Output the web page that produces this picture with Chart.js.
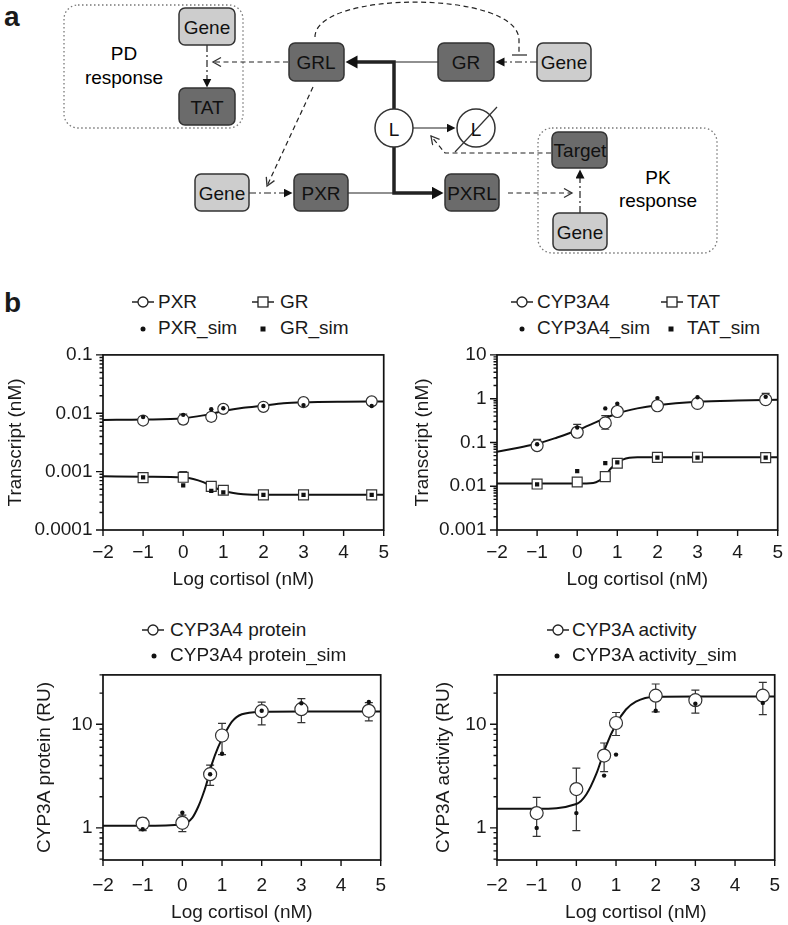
<!DOCTYPE html>
<html>
<head>
<meta charset="utf-8">
<script src="https://cdn.jsdelivr.net/npm/chart.js@4.4.1/dist/chart.umd.min.js"></script>
<style>
  body { margin: 0; background: #fff; width: 788px; height: 925px; position: relative; overflow: hidden;
         font-family: Arial, "Liberation Sans", sans-serif; color: #1a1a1a; }
  canvas, svg, .lg, .tag { position: absolute; }
  .lg { font-size: 19px; line-height: 22px; white-space: nowrap; }
  .tag { font-size: 28px; font-weight: bold; line-height: 30px; }
</style>
</head>
<body>

<div class="tag" style="left:4px;top:2px">a</div>
<div class="tag" style="left:4px;top:288px">b</div>

<!-- panel a: pathway diagram -->
<svg width="788" height="280" style="left:0;top:0" font-family="Arial, 'Liberation Sans', sans-serif" font-size="19">
  <defs>
    <marker id="fa" markerUnits="userSpaceOnUse" markerWidth="10" markerHeight="10" refX="0.5" refY="4.5" orient="auto"><path d="M0,0 L9,4.5 L0,9 z" fill="#111"/></marker>
    <marker id="fb" markerUnits="userSpaceOnUse" markerWidth="14" markerHeight="14" refX="0.5" refY="6.5" orient="auto"><path d="M0,0 L12,6.5 L0,13 z" fill="#111"/></marker>
    <marker id="oa" markerUnits="userSpaceOnUse" markerWidth="12" markerHeight="12" refX="9" refY="5" orient="auto"><path d="M1,0.5 L9,5 L1,9.5" fill="none" stroke="#333" stroke-width="1.3"/></marker>
  </defs>

  <!-- dotted response boxes -->
  <rect x="64" y="5" width="179" height="123" rx="14" fill="none" stroke="#777" stroke-width="1.3" stroke-dasharray="1.5 2.5"/>
  <rect x="538" y="128" width="179" height="125" rx="14" fill="none" stroke="#777" stroke-width="1.3" stroke-dasharray="1.5 2.5"/>
  <text x="124" y="53" text-anchor="middle" dominant-baseline="central">PD</text>
  <text x="124" y="77" text-anchor="middle" dominant-baseline="central">response</text>
  <text x="658" y="177" text-anchor="middle" dominant-baseline="central">PK</text>
  <text x="658" y="200" text-anchor="middle" dominant-baseline="central">response</text>

  <!-- connectors -->
  <g fill="none" stroke="#222">
    <path d="M207,45 L207,79" stroke-width="1.2" stroke-dasharray="7 3 2 3" marker-end="url(#fa)"/>
    <path d="M537,62 L504,62" stroke-width="1.2" stroke-dasharray="7 3 2 3" marker-end="url(#fa)"/>
    <path d="M249,193 L284,193" stroke-width="1.2" stroke-dasharray="7 3 2 3" marker-end="url(#fa)"/>
    <path d="M580,213 L580,178" stroke-width="1.2" stroke-dasharray="7 3 2 3" marker-end="url(#fa)"/>
    <path d="M438,62 L394,62" stroke-width="1.2"/>
    <path d="M348,193 L394,193" stroke-width="1.2"/>
    <path d="M394,109 L394,62 L357,62" stroke-width="3.5" marker-end="url(#fb)"/>
    <path d="M394,147 L394,193 L432,193" stroke-width="3.5" marker-end="url(#fb)"/>
    <path d="M413,128 L447,128" stroke-width="1.2" marker-end="url(#fa)"/>
    <path d="M288,62 L213,62" stroke-width="1.2" stroke-dasharray="5 3.5" marker-end="url(#oa)"/>
    <path d="M313,87 L267,186" stroke-width="1.2" stroke-dasharray="5 3.5" marker-end="url(#oa)"/>
    <path d="M508,193 L572,193" stroke-width="1.2" stroke-dasharray="5 3.5" marker-end="url(#oa)"/>
    <path d="M551,153 L445,153 L431,136" stroke-width="1.2" stroke-dasharray="5 3.5" marker-end="url(#oa)"/>
    <path d="M315,37 C315,-10 519,-10 519,40 L519,55" stroke-width="1.2" stroke-dasharray="5 3.5"/>
    <path d="M512,55 L527,55" stroke-width="1.2"/>
  </g>

  <!-- boxes -->
  <g stroke="#333" stroke-width="1.5">
    <rect x="179" y="8" width="56" height="37" rx="6" fill="#cdcdcd"/>
    <rect x="179" y="88" width="56" height="37" rx="6" fill="#6b6b6b"/>
    <rect x="289" y="43" width="55" height="38" rx="6" fill="#6b6b6b"/>
    <rect x="438" y="43" width="56" height="38" rx="6" fill="#6b6b6b"/>
    <rect x="537" y="43" width="54" height="38" rx="6" fill="#cdcdcd"/>
    <rect x="195" y="174" width="54" height="37" rx="6" fill="#cdcdcd"/>
    <rect x="294" y="174" width="54" height="37" rx="6" fill="#6b6b6b"/>
    <rect x="445" y="174" width="54" height="37" rx="6" fill="#6b6b6b"/>
    <rect x="552" y="132" width="55" height="36" rx="6" fill="#6b6b6b"/>
    <rect x="553" y="213" width="54" height="37" rx="6" fill="#cdcdcd"/>
    <circle cx="394" cy="128" r="19" fill="#fff"/>
    <circle cx="476" cy="128" r="19" fill="#fff"/>
    <path d="M455,152 L497,107" fill="none" stroke-width="1.2"/>
  </g>
  <g fill="#111" text-anchor="middle" dominant-baseline="central">
    <text x="207" y="27">Gene</text>
    <text x="207" y="107">TAT</text>
    <text x="316" y="62">GRL</text>
    <text x="466" y="62">GR</text>
    <text x="564" y="62">Gene</text>
    <text x="222" y="193">Gene</text>
    <text x="321" y="193">PXR</text>
    <text x="472" y="193">PXRL</text>
    <text x="580" y="150">Target</text>
    <text x="580" y="232">Gene</text>
    <text x="394" y="129">L</text>
    <text x="476" y="129">L</text>
  </g>
</svg>

<svg id="icons" width="788" height="925" style="left:0;top:0"></svg>

<canvas id="tl" width="394" height="260" style="left:0;top:340px"></canvas>
<canvas id="tr" width="394" height="260" style="left:394px;top:340px"></canvas>
<canvas id="bl" width="394" height="265" style="left:0;top:660px"></canvas>
<canvas id="br" width="394" height="265" style="left:394px;top:660px"></canvas>

<script>
// ---- data ----
const doseX = [-1, 0, 0.7, 1, 2, 3, 4.7];

const pxrObs = [0.0075, 0.0078, 0.0087, 0.0119, 0.0129, 0.0155, 0.016];
const pxrLo  = [0.0066, 0.0066, 0.0073, 0.0113, 0.0124, 0.0149, 0.0155];
const pxrHi  = [0.0087, 0.0097, 0.0102, 0.0125, 0.0134, 0.0161, 0.0165];
const pxrSim = [0.0086, 0.0094, 0.0117, 0.0122, 0.0133, 0.0138, 0.0133];
const pxrFitX = [-2, -1, 0, 0.5, 0.75, 1, 1.5, 2, 2.5, 3, 4, 5];
const pxrFitY = [0.0077, 0.0078, 0.0082, 0.0092, 0.0100, 0.0109, 0.0124, 0.0135, 0.0148, 0.0154, 0.0158, 0.0159];

const grObs = [0.00079, 0.0008, 0.00056, 0.00048, 0.0004, 0.0004, 0.0004];
const grLo  = [0.00074, 0.0007, 0.00052, 0.00045, 0.00038, 0.00038, 0.00038];
const grHi  = [0.00085, 0.001, 0.0006, 0.00051, 0.00042, 0.00042, 0.00042];
const grSim = [0.0008, 0.00058, 0.00047, 0.00044, 0.0004, 0.0004, 0.0004];
const grFitX = [-2, -1, 0, 0.25, 0.5, 0.75, 1, 1.25, 1.5, 2, 3, 5];
const grFitY = [0.00083, 0.00082, 0.00079, 0.00075, 0.00066, 0.00054, 0.00047, 0.00043, 0.00041, 0.0004, 0.0004, 0.0004];

const cypObs = [0.085, 0.171, 0.28, 0.51, 0.69, 0.78, 0.95];
const cypLo  = [0.07, 0.13, 0.2, 0.45, 0.62, 0.7, 0.75];
const cypHi  = [0.117, 0.26, 0.41, 0.62, 0.85, 0.92, 1.32];
const cypSim = [0.091, 0.22, 0.6, 0.77, 1.03, 1.08, 1.1];
const cypFitX = [-2, -1.5, -1, -0.5, 0, 0.5, 0.7, 1, 1.5, 2, 3, 4, 5];
const cypFitY = [0.061, 0.075, 0.093, 0.13, 0.19, 0.30, 0.36, 0.46, 0.60, 0.71, 0.85, 0.91, 0.94];

const tatObs = [0.0112, 0.0125, 0.0166, 0.0335, 0.0457, 0.046, 0.045];
const tatLo  = [0.0106, 0.0118, 0.0157, 0.0318, 0.0435, 0.0437, 0.0428];
const tatHi  = [0.0118, 0.0132, 0.0175, 0.0352, 0.048, 0.0483, 0.0472];
const tatSim = [0.011, 0.022, 0.0335, 0.035, 0.045, 0.045, 0.045];
const tatFitX = [-2, -1, 0, 0.4, 0.55, 0.7, 0.85, 1, 1.15, 1.3, 1.5, 2, 3, 5];
const tatFitY = [0.0115, 0.0115, 0.0115, 0.0119, 0.0135, 0.0174, 0.026, 0.0335, 0.041, 0.0445, 0.0458, 0.046, 0.046, 0.046];

const protObs = [1.1, 1.12, 3.3, 7.8, 13.4, 14, 13.5];
const protLo  = [0.94, 0.92, 2.57, 5.1, 9.9, 10.4, 10.8];
const protHi  = [1.25, 1.33, 4.04, 10.2, 16.4, 17.7, 16.2];
const protSim = [0.97, 1.4, 3.3, 5.2, 13.5, 16, 16.4];
const protFitX = [-2, -1, 0, 0.25, 0.4, 0.5, 0.6, 0.75, 0.9, 1, 1.25, 1.5, 2, 3, 5];
const protFitY = [1.05, 1.05, 1.08, 1.25, 1.6, 2.0, 2.6, 4.2, 6.0, 7.2, 10.6, 12.5, 13.2, 13.3, 13.3];

const actObs = [1.39, 2.37, 4.99, 10.3, 18.9, 17.1, 18.9];
const actLo  = [0.83, 0.94, 3.5, 7.8, 13.2, 12.8, 12.4];
const actHi  = [1.97, 3.78, 6.6, 13, 24.5, 21.4, 25.4];
const actSim = [1.0, 1.39, 3.2, 5.1, 13.5, 15.8, 16.1];
const actFitX = [-2, -1, 0, 0.25, 0.5, 0.75, 1, 1.25, 1.5, 2, 3, 5];
const actFitY = [1.53, 1.53, 1.7, 2.1, 3.3, 6.2, 10.0, 13.9, 16.6, 18.5, 18.6, 18.6];

// tick labels
const xTicks = [-2, -1, 0, 1, 2, 3, 4, 5];
const tlYTicks = [0.0001, 0.001, 0.01, 0.1];
const tlYLabels = ['0.0001', '0.001', '0.01', '0.1'];
const trYTicks = [0.001, 0.01, 0.1, 1, 10];
const trYLabels = ['0.001', '0.01', '0.1', '1', '10'];
const botYTicks = [1, 10];
const botYLabels = ['1', '10'];

const tlNames = ['PXR', 'GR', 'PXR_sim', 'GR_sim'];
const trNames = ['CYP3A4', 'TAT', 'CYP3A4_sim', 'TAT_sim'];
const blNames = ['CYP3A4 protein', 'CYP3A4 protein_sim'];
const brNames = ['CYP3A activity', 'CYP3A activity_sim'];

const FONT = 'Arial, "Liberation Sans", sans-serif';
Chart.defaults.font.family = FONT;
Chart.defaults.font.size = 19;
Chart.defaults.color = '#1a1a1a';

const pts = (xs, ys) => xs.map((x, i) => ({ x: x, y: ys[i] }));

function fitSet(xs, ys) {
  return { data: pts(xs, ys), showLine: true, pointRadius: 0, borderColor: '#111', borderWidth: 2,
           cubicInterpolationMode: 'monotone', order: 3 };
}
function obsSet(ys, style, r) {
  return { data: pts(doseX, ys), showLine: false, pointStyle: style, pointRadius: r,
           backgroundColor: '#fff', borderColor: '#333', borderWidth: 1.2, order: 2 };
}
function simSet(ys, style) {
  return { data: pts(doseX, ys), showLine: false, pointStyle: style, pointRadius: style === 'rect' ? 3 : 2.2,
           backgroundColor: '#111', borderColor: '#111', borderWidth: 0, order: 1 };
}

// error bars, frame box and tick marks drawn through the chart scales
const frame = {
  id: 'frame',
  beforeDatasetsDraw(chart, args, opts) {
    const ctx = chart.ctx, sx = chart.scales.x, sy = chart.scales.y;
    ctx.save();
    ctx.strokeStyle = '#333';
    ctx.lineWidth = 1.2;
    (opts.bars || []).forEach(b => {
      doseX.forEach((xv, i) => {
        const px = sx.getPixelForValue(xv);
        const p1 = sy.getPixelForValue(b.lo[i]);
        const p2 = sy.getPixelForValue(b.hi[i]);
        ctx.beginPath();
        ctx.moveTo(px, p1); ctx.lineTo(px, p2);
        ctx.moveTo(px - 4, p1); ctx.lineTo(px + 4, p1);
        ctx.moveTo(px - 4, p2); ctx.lineTo(px + 4, p2);
        ctx.stroke();
      });
    });
    ctx.restore();
  },
  afterDraw(chart) {
    const { ctx, chartArea: a, scales } = chart;
    ctx.save();
    ctx.strokeStyle = '#111';
    ctx.lineWidth = 1.7;
    ctx.strokeRect(a.left, a.top, a.right - a.left, a.bottom - a.top);
    ctx.lineWidth = 1.4;
    ctx.beginPath();
    scales.x.ticks.forEach(t => {
      const p = scales.x.getPixelForValue(t.value);
      ctx.moveTo(p, a.bottom); ctx.lineTo(p, a.bottom + 6);
    });
    scales.y.ticks.forEach(t => {
      const p = scales.y.getPixelForValue(t.value);
      ctx.moveTo(a.left, p); ctx.lineTo(a.left - (t.mj ? 7 : 3.5), p);
    });
    ctx.stroke();
    ctx.restore();
  }
};

function logTicks(min, max, majors, labels) {
  return function (scale) {
    const out = [];
    for (let e = Math.floor(Math.log10(min)); e <= Math.ceil(Math.log10(max)); e++) {
      for (let d = 1; d <= 9; d++) {
        const v = d * Math.pow(10, e);
        if (v < min * 0.999 || v > max * 1.001) continue;
        if (d === 1) {
          const k = majors.findIndex(m => Math.abs(m - v) / m < 1e-6);
          out.push({ value: majors[k], mj: true, lbl: labels[k] });
        } else {
          out.push({ value: v, mj: false, lbl: '' });
        }
      }
    }
    scale.ticks = out;
  };
}

function makePanel(id, p) {
  return new Chart(document.getElementById(id), {
    type: 'line',
    data: { datasets: p.datasets },
    plugins: [frame],
    options: {
      responsive: false, animation: false, events: [],
      layout: { padding: { left: 0, right: 7, top: p.padTop, bottom: 0 } },
      plugins: { legend: { display: false }, tooltip: { enabled: false }, frame: { bars: p.bars } },
      scales: {
        x: {
          type: 'linear', min: -2, max: 5,
          afterBuildTicks: s => { s.ticks = xTicks.map(v => ({ value: v })); },
          afterFit: s => { s.height = p.xHeight; },
          grid: { drawOnChartArea: false, tickLength: 6, tickColor: 'rgba(0,0,0,0)' },
          border: { display: false },
          ticks: { padding: p.xPad, maxRotation: 0, autoSkip: false,
                   callback: v => v < 0 ? '\u2212' + Math.abs(v) : String(v) },
          title: { display: true, text: 'Log cortisol (nM)', font: { size: 19 },
                   padding: { top: 0, bottom: p.xTitlePad } }
        },
        y: {
          type: 'logarithmic', min: p.yMin, max: p.yMax,
          afterBuildTicks: logTicks(p.yMin, p.yMax, p.yTicks, p.yLabels),
          afterFit: s => { s.width = 103; },
          grid: { drawOnChartArea: false, tickLength: 7, tickColor: 'rgba(0,0,0,0)' },
          border: { display: false },
          ticks: { padding: 3.5, autoSkip: false, callback: (v, i, t) => t[i].lbl },
          title: { display: true, text: p.yTitle, font: { size: 19 },
                   padding: { top: p.yTitlePad, bottom: 0 } }
        }
      }
    }
  });
}

makePanel('tl', {
  datasets: [fitSet(pxrFitX, pxrFitY), fitSet(grFitX, grFitY), obsSet(pxrObs, 'circle', 5.5), obsSet(grObs, 'rect', 7),
             simSet(pxrSim, 'circle'), simSet(grSim, 'rect')],
  bars: [{ lo: pxrLo, hi: pxrHi }, { lo: grLo, hi: grHi }],
  yMin: 0.0001, yMax: 0.1, yTicks: tlYTicks, yLabels: tlYLabels, yTitle: 'Transcript (nM)', yTitlePad: 4,
  padTop: 3, xHeight: 70, xPad: 5, xTitlePad: 9
});
makePanel('tr', {
  datasets: [fitSet(cypFitX, cypFitY), fitSet(tatFitX, tatFitY), obsSet(cypObs, 'circle', 6), obsSet(tatObs, 'rect', 7),
             simSet(cypSim, 'circle'), simSet(tatSim, 'rect')],
  bars: [{ lo: cypLo, hi: cypHi }, { lo: tatLo, hi: tatHi }],
  yMin: 0.001, yMax: 10, yTicks: trYTicks, yLabels: trYLabels, yTitle: 'Transcript (nM)', yTitlePad: 17,
  padTop: 2, xHeight: 70, xPad: 5, xTitlePad: 9
});
makePanel('bl', {
  datasets: [fitSet(protFitX, protFitY), obsSet(protObs, 'circle', 6.5), simSet(protSim, 'circle')],
  bars: [{ lo: protLo, hi: protHi }],
  yMin: 0.49, yMax: 30, yTicks: botYTicks, yLabels: botYLabels, yTitle: 'CYP3A protein (RU)', yTitlePad: 33,
  padTop: 12, xHeight: 65, xPad: 8, xTitlePad: 1
});
makePanel('br', {
  datasets: [fitSet(actFitX, actFitY), obsSet(actObs, 'circle', 6.5), simSet(actSim, 'circle')],
  bars: [{ lo: actLo, hi: actHi }],
  yMin: 0.49, yMax: 30, yTicks: botYTicks, yLabels: botYLabels, yTitle: 'CYP3A activity (RU)', yTitlePad: 38,
  padTop: 13, xHeight: 65, xPad: 8, xTitlePad: 1
});

// ---- legends (icon centre x, text x, row y) ----
const legendRows = [
  [tlNames[0], 'lc', 143, 158, 302], [tlNames[1], 'ls', 263, 280, 302],
  [tlNames[2], 'dot', 143, 158, 328], [tlNames[3], 'sq', 263, 280, 328],
  [trNames[0], 'lc', 522, 537, 302], [trNames[1], 'ls', 672, 687, 302],
  [trNames[2], 'dot', 522, 537, 328], [trNames[3], 'sq', 671, 687, 328],
  [blNames[0], 'lc', 153, 170, 630], [blNames[1], 'dot', 154, 170, 655],
  [brNames[0], 'lc', 558, 572, 630], [brNames[1], 'dot', 557, 572, 655]
];
const NS = 'http://www.w3.org/2000/svg';
const icons = document.getElementById('icons');
function svgEl(tag, attrs) {
  const e = document.createElementNS(NS, tag);
  for (const k in attrs) e.setAttribute(k, attrs[k]);
  icons.appendChild(e);
}
legendRows.forEach(([label, kind, cx, tx, cy]) => {
  if (kind === 'lc' || kind === 'ls') {
    svgEl('line', { x1: cx - 11, y1: cy, x2: cx + 11, y2: cy, stroke: '#222', 'stroke-width': 1.5 });
    if (kind === 'lc') svgEl('circle', { cx: cx, cy: cy, r: 5, fill: '#fff', stroke: '#222', 'stroke-width': 1.3 });
    else svgEl('rect', { x: cx - 5, y: cy - 5, width: 10, height: 10, fill: '#fff', stroke: '#222', 'stroke-width': 1.3 });
  } else if (kind === 'dot') {
    svgEl('circle', { cx: cx, cy: cy + 1, r: 2.5, fill: '#111' });
  } else {
    svgEl('rect', { x: cx - 2.5, y: cy - 1.5, width: 5, height: 5, fill: '#111' });
  }
  const d = document.createElement('div');
  d.className = 'lg';
  d.style.left = tx + 'px';
  d.style.top = (cy - 11) + 'px';
  d.textContent = label;
  document.body.appendChild(d);
});
</script>
</body>
</html>
